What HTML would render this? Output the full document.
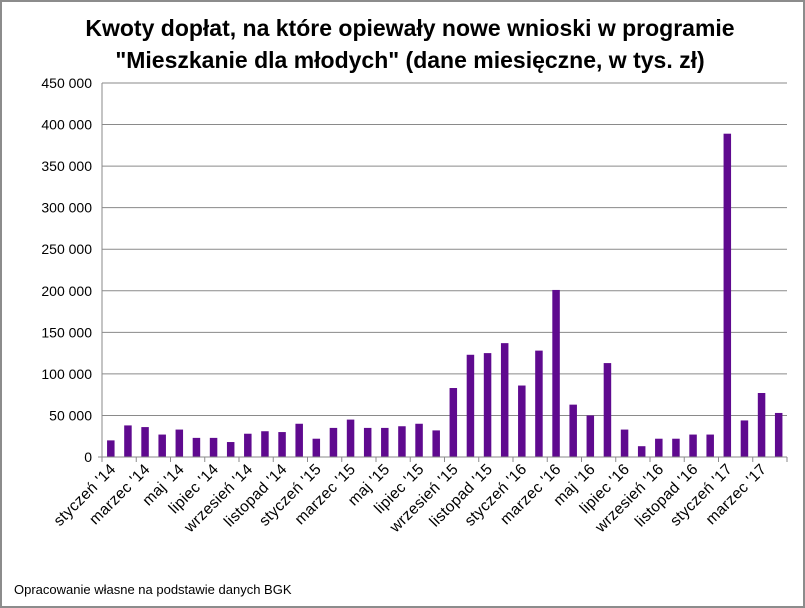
<!DOCTYPE html>
<html><head><meta charset="utf-8"><style>
body{margin:0;background:#fff}
svg{display:block;font-family:"Liberation Sans",sans-serif}
</style></head><body>
<svg id="chart" width="805" height="608">
<rect x="1" y="1" width="803" height="606" fill="#fff" stroke="#8c8c8c" stroke-width="2"/>
<text x="410" y="36" text-anchor="middle" font-size="23" font-weight="bold" fill="#000">Kwoty dopłat, na które opiewały nowe wnioski w programie</text>
<text x="410" y="68" text-anchor="middle" font-size="23" font-weight="bold" fill="#000">"Mieszkanie dla młodych" (dane miesięczne, w tys. zł)</text>
<g id="grid"></g><g id="bars"></g><g id="axes"></g>
<text x="14" y="594" font-size="13" fill="#000">Opracowanie własne na podstawie danych BGK</text>
</svg>
<script>
const monthNames=["styczeń","luty","marzec","kwiecień","maj","czerwiec","lipiec","sierpień","wrzesień","październik","listopad","grudzień"];
const values=[20,38,36,27,33,23,23,18,28,31,30,40,22,35,45,35,35,37,40,32,83,123,125,137,86,128,201,63,50,113,33,13,22,22,27,27,389,44,77,53];
const yTicks=[0,50,100,150,200,250,300,350,400,450];
const categories=values.map((v,i)=>monthNames[i%12]+" '"+(14+Math.floor(i/12)));
const NS="http://www.w3.org/2000/svg";
const x0=102,x1=787,y0=457,yTop=83,maxV=450;
const cw=(x1-x0)/values.length;
const yS=v=>y0-(v/maxV)*(y0-yTop);
const xS=i=>x0+cw*(i+0.5);
function mk(t,a,p){const e=document.createElementNS(NS,t);for(const k in a)e.setAttribute(k,a[k]);p.appendChild(e);return e;}
const grid=document.getElementById('grid'),bars=document.getElementById('bars'),axes=document.getElementById('axes');
yTicks.forEach(t=>{
  const y=yS(t);
  if(t>0){const l=mk('line',{x1:x0,x2:x1,y1:y,y2:y,stroke:'#8a8a8a','stroke-width':1},grid);
  
  }
  const tx=mk('text',{x:x0-10,y:y+5,'text-anchor':'end','font-size':14,fill:'#000'},axes);
  tx.textContent=t===0?'0':t+' 000';
  
  
});
const ya=mk('line',{x1:x0,x2:x0,y1:yTop,y2:y0,stroke:'#8a8a8a'},axes);


const xa=mk('line',{x1:x0-4,x2:x1,y1:y0,y2:y0,stroke:'#8a8a8a'},axes);


values.forEach((v,i)=>{
  const b=mk('rect',{x:xS(i)-3.5,y:yS(v),width:7.5,height:y0-yS(v),fill:'#5f0a8f'},bars);
  
  
});
for(let i=0;i<=values.length;i+=2){
  const x=x0+cw*i;
  const tk=mk('line',{x1:x,x2:x,y1:y0,y2:y0+5,stroke:'#8a8a8a'},axes);
  
  
}
categories.forEach((c,i)=>{
  if(i%2)return;
  const x=xS(i)+6,y=y0+13;
  const t=mk('text',{x:x,y:y,'text-anchor':'end','font-size':15.5,'letter-spacing':0.3,fill:'#000',transform:`rotate(-45 ${x} ${y})`},axes);
  t.textContent=c;
  
  
});
</script>
</body></html>
